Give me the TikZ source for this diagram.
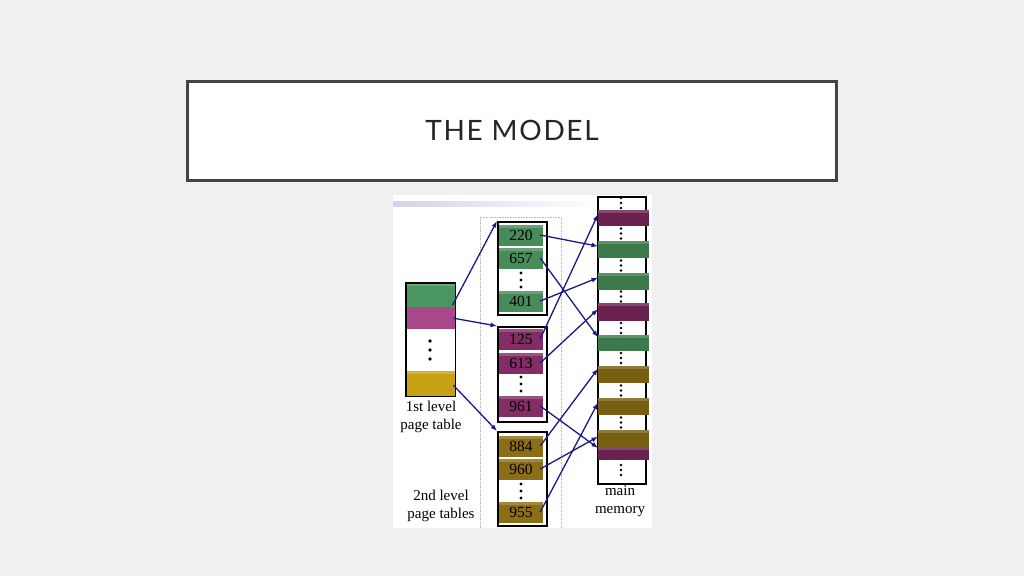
\documentclass[tikz,border=0pt]{standalone}
\usepackage{fontspec}
\setmainfont{Liberation Serif}
\newfontfamily\titlefont[LetterSpace=6]{Lato}
\usetikzlibrary{arrows.meta}
\definecolor{bg}{HTML}{F0F0F0}
\definecolor{frame}{HTML}{444444}
\definecolor{titlec}{HTML}{262626}
\definecolor{navy}{RGB}{25,25,140}
\definecolor{gA}{RGB}{74,150,96}
\definecolor{pA}{RGB}{168,72,138}
\definecolor{yA}{RGB}{200,160,22}
\definecolor{gB}{RGB}{72,140,90}
\definecolor{pB}{RGB}{132,44,102}
\definecolor{yB}{RGB}{140,110,22}
\definecolor{gC}{RGB}{60,122,76}
\definecolor{pC}{RGB}{108,34,80}
\definecolor{yC}{RGB}{120,94,16}
\tikzset{
  lip/.style={path picture={\fill[white,opacity=0.18] (path picture bounding box.north west) rectangle ([yshift=-3pt]path picture bounding box.north east);}},
  band/.style={draw=none, minimum width=49pt, inner sep=0pt, anchor=north west},
  entry/.style={draw=none, lip, minimum width=44pt, minimum height=21pt, inner sep=0pt, font=\fontsize{15.5}{16}\selectfont},
  tbl/.style={draw=black, line width=1.6pt, minimum width=49pt, inner sep=0pt, anchor=north west},
  memblk/.style={draw=none, lip, minimum width=51pt, inner sep=0pt, anchor=north west},
  arr/.style={draw=navy, line width=1.3pt, -{Latex[length=6.5pt,width=5pt]}},
  lbl/.style={align=center, font=\fontsize{15}{18}\selectfont, inner sep=0pt},
  dotc/.style={fill=black}
}
\begin{document}
\begin{tikzpicture}[x=1pt,y=-1pt]
\fill[bg] (0,0) rectangle (1024,576);
\useasboundingbox (0,0) rectangle (1024,576);
% title box
\node[draw=frame, line width=2.5pt, fill=white, minimum width=649pt, minimum height=99pt, inner sep=0pt] (titlebox) at (512,131) {};
\node[text=titlec, font=\titlefont\fontsize{28}{30}\selectfont] (title) at (512,130) {THE MODEL};
% picture area
\fill[white] (393,195) rectangle (652,528);
\shade[left color={rgb,255:red,210;green,210;blue,235}, right color=white] (393,201) rectangle (600,206);
% dotted frame around 2nd level tables
\draw[gray!55, densely dotted, line width=0.6pt] (480,528) -- (480,217) -- (561,217) -- (561,528);

% 1st level page table
\node[band, fill=gA, lip, minimum height=24pt] (f1) at (406,283) {};
\node[band, fill=pA, minimum height=22pt] (f2) at (406,307) {};
\node[band, fill=white, minimum height=42pt] (f3) at (406,329) {};
\node[band, fill=yA, lip, minimum height=25pt] (f4) at (406,371) {};
\draw[black, line width=1.5pt] (f1.north west) rectangle (f4.south east);
\foreach \yy in {341,350,359} \fill[dotc] (430,\yy) circle (1.9pt);
\node[lbl] (l1) at (431,417) {1st level\\page table};

% 2nd level tables
\node[tbl, minimum height=93pt] (t1) at (497,221) {};
\node[entry, fill=gB] (e220) at (521,235) {220};
\node[entry, fill=gB] (e657) at (521,258) {657};
\node[entry, fill=gB] (e401) at (521,301) {401};
\foreach \yy in {273,280,287} \fill[dotc] (521,\yy) circle (1.6pt);

\node[tbl, minimum height=95pt] (t2) at (497,326) {};
\node[entry, fill=pB] (e125) at (521,339) {125};
\node[entry, fill=pB] (e613) at (521,363) {613};
\node[entry, fill=pB] (e961) at (521,406) {961};
\foreach \yy in {377,384,391} \fill[dotc] (521,\yy) circle (1.6pt);

\node[tbl, minimum height=94pt] (t3) at (497,431) {};
\node[entry, fill=yB] (e884) at (521,446) {884};
\node[entry, fill=yB] (e960) at (521,469) {960};
\node[entry, fill=yB] (e955) at (521,512) {955};
\foreach \yy in {484,491,498} \fill[dotc] (521,\yy) circle (1.6pt);
\node[lbl] (l2) at (441,506) {2nd level\\page tables};

% main memory
\node[draw=black, line width=1.5pt, minimum width=48pt, minimum height=287pt, inner sep=0pt, anchor=north west] (mem) at (597,196) {};
\node[memblk, fill=pC, minimum height=16pt] (m1) at (598,210) {};
\node[memblk, fill=gC, minimum height=17pt] (m2) at (598,241) {};
\node[memblk, fill=gC, minimum height=17pt] (m3) at (598,273) {};
\node[memblk, fill=pC, minimum height=18pt] (m4) at (598,303) {};
\node[memblk, fill=gC, minimum height=16pt] (m5) at (598,335) {};
\node[memblk, fill=yC, minimum height=17pt] (m6) at (598,366) {};
\node[memblk, fill=yC, minimum height=17pt] (m7) at (598,398) {};
\node[memblk, fill=yC, minimum height=17pt] (m8) at (598,430) {};
\node[memblk, fill=pC, draw=none, minimum height=13pt] (m9) at (598,447) {};
\foreach \yc in {203,233.5,265.5,296.5,328,358,390.5,422.5,470}
  \foreach \dd in {-5,0,5} \fill[dotc] (621,\yc+\dd) circle (1.3pt);
\node[lbl] (l3) at (620,501) {main\\memory};

% arrows 1st -> 2nd level
\draw[arr] ([xshift=-3pt,yshift=2pt]f1.south east) -- (t1.north west);
\draw[arr] ([xshift=-2pt]f2.east) -- (t2.north west);
\draw[arr] ([xshift=-2pt,yshift=-1.5pt]f4.east) -- (t3.north west);

% arrows 2nd level -> memory
\draw[arr] ([xshift=-3pt]e220.east) -- ([yshift=3.5pt]m2.west);
\draw[arr] ([xshift=-3pt]e657.east) -- ([yshift=6pt]m5.west);
\draw[arr] ([xshift=-3pt]e401.east) -- ([yshift=4pt]m3.west);
\draw[arr] ([xshift=-3pt]e125.east) -- ([yshift=4pt]m1.west);
\draw[arr] ([xshift=-3pt]e613.east) -- ([yshift=3pt]m4.west);
\draw[arr] ([xshift=-3pt]e961.east) -- ([yshift=-1pt]m9.north west);
\draw[arr] ([xshift=-3pt]e884.east) -- ([yshift=6pt]m6.west);
\draw[arr] ([xshift=-3pt]e960.east) -- ([yshift=2pt]m8.west);
\draw[arr] ([xshift=-3pt]e955.east) -- ([yshift=4pt]m7.west);
\end{tikzpicture}
\end{document}
